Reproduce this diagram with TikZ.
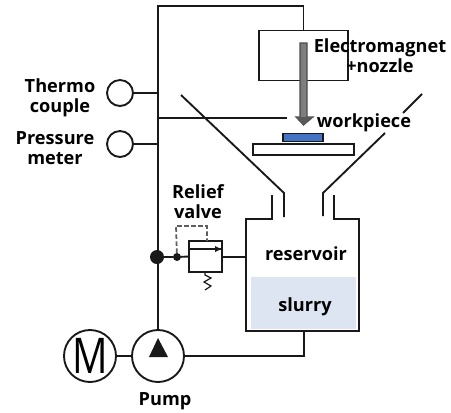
\documentclass[tikz,border=0pt]{standalone}
\usepackage{fontspec}
\setmainfont{Open Sans}
\usepackage{tikz}
\usetikzlibrary{positioning}
\definecolor{slurryblue}{RGB}{220, 229, 241}
\definecolor{pieceblue}{RGB}{68, 114, 196}
\definecolor{pipeblack}{RGB}{25, 25, 25}
\tikzset{
    pipe/.style={draw=pipeblack, line width=1.6pt},
    gauge/.style={circle, pipe, minimum size=0.78cm, inner sep=0pt, outer sep=0pt},
    rotary/.style={circle, pipe, minimum size=1.56cm, inner sep=0pt, outer sep=0pt},
    joint/.style={circle, fill=pipeblack, inner sep=0pt, outer sep=0pt},
    label/.style={font=\bfseries\fontsize{15.5}{17.2}\selectfont, align=center, text=black, inner sep=0pt},
    block/.style={rectangle, pipe, inner sep=0pt, outer sep=0pt}
}
\begin{document}
\begin{tikzpicture}[x=0.03cm, y=-0.03cm]
            \useasboundingbox (0,0) rectangle (451,412);
            % slurry fill first, the tank outline goes on top
            \fill[slurryblue] (251,277) rectangle (356,329);
            \node[rotary] (pump) at (158,356) {};
            \node[rotary] (motor) at (90,356) {};
            \node[gauge] (thermo) at (120,93) {};
            \node[gauge] (pressure) at (120,144) {};
            \node[block, minimum width=2.67cm, minimum height=1.5cm] (magnet) at (303.5,55.5) {};
            \node[block, minimum width=3.03cm, minimum height=0.33cm] (tbl) at (303.5,149.5) {};
            \node[block, fill=pieceblue, minimum width=1.2cm, minimum height=0.24cm] (piece) at (303,137.5) {};
            \node[block, minimum width=0.99cm, minimum height=0.93cm] (valve) at (205.5,256.5) {};
            \node[joint, minimum size=0.42cm] (bigjoint) at (157,257) {};
            \node[joint, minimum size=0.24cm] (smalljoint) at (177,257) {};
            \coordinate (tankleft) at (246,257);
            \coordinate (tankbottom) at (304,331);
            \coordinate (toptee) at (158,6);
            \coordinate (shield) at (287,118);
            % main line and branches
            \draw[pipe] (pump.north) -- (toptee) -| (magnet.north);
            \draw[pipe] (thermo.east) -- (thermo.east -| toptee);
            \draw[pipe] (pressure.east) -- (pressure.east -| toptee);
            \draw[pipe] (shield -| toptee) -- (shield);
            \draw[pipe] (motor.east) -- (pump.west);
            \draw[pipe] (pump.east) -| (tankbottom);
            \draw[pipe] (bigjoint) -- (smalljoint) -- (valve.west);
            \draw[pipe] (valve.east |- tankleft) -- (tankleft);
            % relief valve details
            \draw[pipe, draw=pipeblack!70, dash pattern=on 4pt off 2pt, line width=1.5pt] (smalljoint) -- (176,226) -- (207,226) -- (207,241);
            \draw[pipe, line width=1.2pt] (189,249) -- (222,249);
            \fill[pipeblack] (221,249) -- (215,246) -- (215,252) -- cycle;
            \draw[pipe, line width=1pt] (205,272) -- (205,275) -- (211,278) -- (204,282) -- (211,286) -- (205,290);
            % funnel and tank
            \draw[pipe] (181,95) -- (284,193) -- (284,217);
            \draw[pipe] (323,216) -- (323,193) -- (385,133);
            \draw[pipe] (403,113) -- (422,94);
            \draw[pipe] (272,195) -- (272,219) -- (246,219) -- (246,331) -- (359,331) -- (359,219) -- (334,219) -- (334,195);
            % nozzle arrow
            \draw[black!70, line width=1pt, left color=black!55, middle color=black!10, right color=black!45]
                (300,43) -- (307,43) -- (307,117) -- (313,117) -- (303.5,125) -- (296,117) -- (300,117) -- cycle;
            \fill[black!65] (313,117) -- (303.5,125) -- (296,117) -- cycle;
            \fill[pipeblack] (158,338) -- (168,357) -- (149,357) -- cycle;
            % labels
            \node[font=\fontsize{42}{42}\selectfont, inner sep=0pt, xscale=0.8] (motorlabel) at (90,356) {M};
            \node[label] (magnetlabel) at (380,55.5) {Electromagnet\\+nozzle};
            \node[label] (piecelabel) at (364,123) {workpiece};
            \node[label] (thermolabel) at (60,98) {Thermo\\couple};
            \node[label] (pressurelabel) at (55,148) {Pressure\\meter};
            \node[label] (relieflabel) at (198,202) {Relief\\valve};
            \node[label] (reservoirlabel) at (306,254) {reservoir};
            \node[label] (slurrylabel) at (305,307) {slurry};
            \node[label] (pumplabel) at (165,401) {Pump};
        \end{tikzpicture}
\end{document}
